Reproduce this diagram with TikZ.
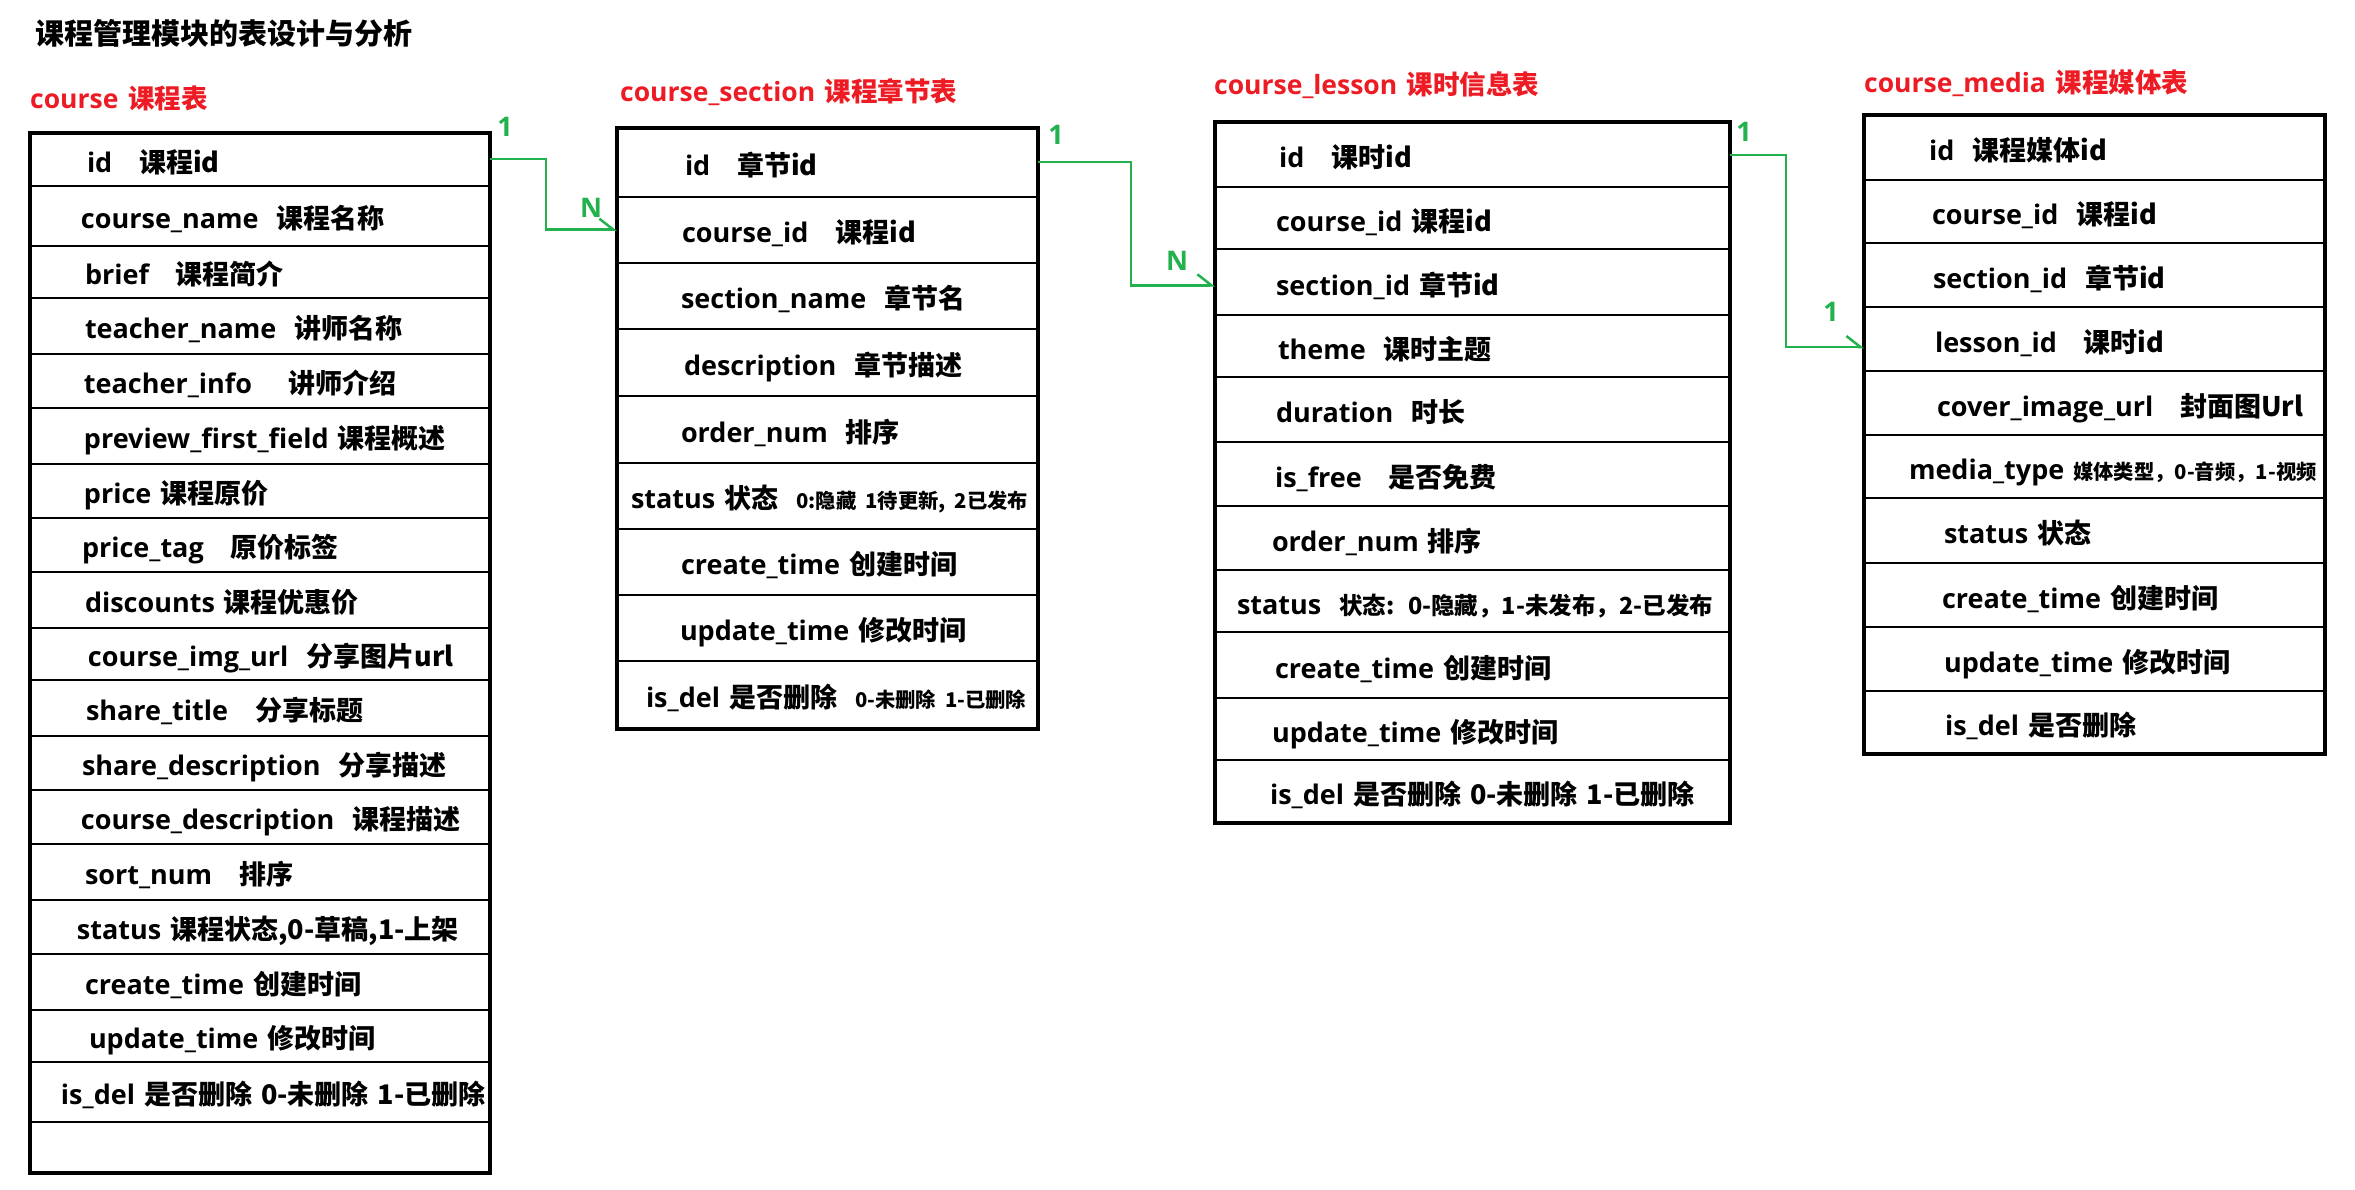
\documentclass[tikz,border=0pt]{standalone}
\usepackage{fontspec}
\setmainfont{Open Sans}[WordSpace=1.4]
\newfontfamily\zhfont{Noto Sans CJK SC}
\usepackage{tikz}
\usetikzlibrary{arrows.meta, positioning, fit}

\definecolor{titlered}{RGB}{237,28,36}
\definecolor{linkgreen}{RGB}{34,177,76}

\newcommand{\zh}[1]{{\zhfont #1}}
\newcommand{\zhsmall}[1]{{\zhfont\fontsize{20.3}{24}\selectfont #1}}
\newcommand{\zhmid}[1]{{\zhfont\fontsize{23.5}{28}\selectfont #1}}
\newcommand{\fld}[2]{\hspace*{#1pt}\mbox{#2}}

\begin{document}
\begin{tikzpicture}[
    x=1pt, y=-1pt,
    field/.style={draw, line width=1.8pt, inner sep=0pt, outer sep=0pt, align=left,
        text height=26pt, text depth=0pt, font=\bfseries\fontsize{27}{32}\selectfont},
    crow/.style={field, text width=460pt, minimum height=#1},
    srow/.style={field, text width=421pt, minimum height=#1},
    lrow/.style={field, text width=515pt, minimum height=#1},
    mrow/.style={field, text width=461pt, minimum height=#1},
    tablebox/.style={draw, line width=3.8pt, inner sep=0pt},
    tabtitle/.style={anchor=west, inner sep=0pt, text=titlered, font=\bfseries\fontsize{26.5}{30}\selectfont},
    card/.style={inner sep=0pt, text=linkgreen, font=\bfseries\fontsize{27}{30}\selectfont},
    link/.style={draw=linkgreen, line width=2.5pt, -{Straight Barb[harpoon, length=14pt, width=22pt]}}
]

\fill[white] (0,0) rectangle (2355,1189);

% Titre
\node[anchor=west, inner sep=0pt, font=\bfseries\fontsize{29}{32}\selectfont] (title) at (35,33)
    {\zh{课程管理模块的表设计与分析}};

% course 课程表
\node[tabtitle] (t1) at (30,98) {course~\zh{课程表}};
\node[crow=53pt, anchor=north west] (c1) at (30,132.7) {\fld{57}{id~~~\zh{课程id}}};
\node[crow=60pt, below=0pt of c1] (c2) {\fld{51}{course\_name~~\zh{课程名称}}};
\node[crow=52pt, below=0pt of c2] (c3) {\fld{55}{brief~~~\zh{课程简介}}};
\node[crow=56pt, below=0pt of c3] (c4) {\fld{55}{teacher\_name~~\zh{讲师名称}}};
\node[crow=54pt, below=0pt of c4] (c5) {\fld{54}{teacher\_info~~~~\zh{讲师介绍}}};
\node[crow=56pt, below=0pt of c5] (c6) {\fld{54}{preview\_first\_field~\zh{课程概述}}};
\node[crow=54pt, below=0pt of c6] (c7) {\fld{54}{price~\zh{课程原价}}};
\node[crow=54pt, below=0pt of c7] (c8) {\fld{52}{price\_tag~~~\zh{原价标签}}};
\node[crow=56pt, below=0pt of c8] (c9) {\fld{55}{discounts~\zh{课程优惠价}}};
\node[crow=52pt, below=0pt of c9] (c10) {\fld{58}{course\_img\_url~~\zh{分享图片url}}};
\node[crow=56pt, below=0pt of c10] (c11) {\fld{56}{share\_title~~~\zh{分享标题}}};
\node[crow=54pt, below=0pt of c11] (c12) {\fld{52}{share\_description~~\zh{分享描述}}};
\node[crow=54pt, below=0pt of c12] (c13) {\fld{51}{course\_description~~\zh{课程描述}}};
\node[crow=56pt, below=0pt of c13] (c14) {\fld{55}{sort\_num~~~\zh{排序}}};
\node[crow=54pt, below=0pt of c14] (c15) {\fld{47}{status~\zh{课程状态,0-草稿,1-上架}}};
\node[crow=56pt, below=0pt of c15] (c16) {\fld{55}{create\_time~\zh{创建时间}}};
\node[crow=52pt, below=0pt of c16] (c17) {\fld{59}{update\_time~\zh{修改时间}}};
\node[crow=60pt, below=0pt of c17] (c18) {\fld{31}{is\_del~\zh{是否删除 0-未删除 1-已删除}}};
\node[crow=51pt, below=0pt of c18] (c19) {};
\node[tablebox, fit=(c1)(c19)] (course) {};

% course_section 课程章节表
\node[tabtitle] (t2) at (620,92) {course\_section~\zh{课程章节表}};
\node[srow=69pt, anchor=north west] (s1) at (617,127.7) {\fld{68}{id~~~\zh{章节id}}};
\node[srow=66pt, below=0pt of s1] (s2) {\fld{65}{course\_id~~~\zh{课程id}}};
\node[srow=66pt, below=0pt of s2] (s3) {\fld{64}{section\_name~~\zh{章节名}}};
\node[srow=67pt, below=0pt of s3] (s4) {\fld{67}{description~~\zh{章节描述}}};
\node[srow=67pt, below=0pt of s4] (s5) {\fld{64}{order\_num~~\zh{排序}}};
\node[srow=66pt, below=0pt of s5] (s6) {\fld{14}{status~\zh{状态}~~\zhsmall{0:隐藏 1待更新, 2已发布}}};
\node[srow=66pt, below=0pt of s6] (s7) {\fld{64}{create\_time~\zh{创建时间}}};
\node[srow=66pt, below=0pt of s7] (s8) {\fld{63}{update\_time~\zh{修改时间}}};
\node[srow=68pt, below=0pt of s8] (s9) {\fld{29}{is\_del~\zh{是否删除}~~\zhsmall{0-未删除 1-已删除}}};
\node[tablebox, fit=(s1)(s9)] (section) {};

% course_lesson 课时信息表
\node[tabtitle] (t3) at (1214,85) {course\_lesson~\zh{课时信息表}};
\node[lrow=65pt, anchor=north west] (l1) at (1215,122.3) {\fld{64}{id~~~\zh{课时id}}};
\node[lrow=62pt, below=0pt of l1] (l2) {\fld{61}{course\_id~\zh{课程id}}};
\node[lrow=66pt, below=0pt of l2] (l3) {\fld{61}{section\_id~\zh{章节id}}};
\node[lrow=62pt, below=0pt of l3] (l4) {\fld{63}{theme~~\zh{课时主题}}};
\node[lrow=65pt, below=0pt of l4] (l5) {\fld{61}{duration~~\zh{时长}}};
\node[lrow=64pt, below=0pt of l5] (l6) {\fld{60}{is\_free~~~\zh{是否免费}}};
\node[lrow=64pt, below=0pt of l6] (l7) {\fld{57}{order\_num~\zh{排序}}};
\node[lrow=62pt, below=0pt of l7] (l8) {\fld{22}{status~~\zhmid{状态: 0-隐藏，1-未发布，2-已发布}}};
\node[lrow=66pt, below=0pt of l8] (l9) {\fld{60}{create\_time~\zh{创建时间}}};
\node[lrow=62pt, below=0pt of l9] (l10) {\fld{57}{update\_time~\zh{修改时间}}};
\node[lrow=63pt, below=0pt of l10] (l11) {\fld{55}{is\_del~\zh{是否删除 0-未删除 1-已删除}}};
\node[tablebox, fit=(l1)(l11)] (lesson) {};

% course_media 课程媒体表
\node[tabtitle] (t4) at (1864,83) {course\_media~\zh{课程媒体表}};
\node[mrow=65pt, anchor=north west] (m1) at (1864,115) {\fld{65}{id~~\zh{课程媒体id}}};
\node[mrow=63pt, below=0pt of m1] (m2) {\fld{68}{course\_id~~\zh{课程id}}};
\node[mrow=64pt, below=0pt of m2] (m3) {\fld{69}{section\_id~~\zh{章节id}}};
\node[mrow=64pt, below=0pt of m3] (m4) {\fld{71}{lesson\_id~~~\zh{课时id}}};
\node[mrow=64pt, below=0pt of m4] (m5) {\fld{73}{cover\_image\_url~~~\zh{封面图Url}}};
\begin{scope}
    \clip (m5.south west) rectangle ([yshift=-63pt]m5.south east);
    \node[mrow=63pt, below=0pt of m5] (m6) {\fld{45}{media\_type~\zhsmall{媒体类型，0-音频，1-视频}}};
\end{scope}
\node[mrow=65pt, below=0pt of m6] (m7) {\fld{80}{status~\zh{状态}}};
\node[mrow=64pt, below=0pt of m7] (m8) {\fld{78}{create\_time~\zh{创建时间}}};
\node[mrow=64pt, below=0pt of m8] (m9) {\fld{80}{update\_time~\zh{修改时间}}};
\node[mrow=63pt, below=0pt of m9] (m10) {\fld{81}{is\_del~\zh{是否删除}}};
\node[tablebox, fit=(m1)(m10)] (media) {};

% Relations
\draw[link] (c1.east) -- ++(56,0) |- (s2.west);
\node[card] (k1) at ([xshift=15pt, yshift=32pt]c1.east) {1};
\node[card] (k2) at ([xshift=-26pt, yshift=22pt]s2.west) {N};

\draw[link] (s1.east) -- ++(93,0) |- ([yshift=-3pt]l3.west);
\node[card] (k3) at ([xshift=18pt, yshift=27pt]s1.east) {1};
\node[card] (k4) at ([xshift=-38pt, yshift=21pt]l3.west) {N};

\draw[link] (l1.east) -- ++(56,0) |- ([yshift=-8pt]m4.west);
\node[card] (k5) at ([xshift=14pt, yshift=23pt]l1.east) {1};
\node[card] (k6) at ([xshift=-33pt, yshift=27pt]m4.west) {1};

\end{tikzpicture}
\end{document}
